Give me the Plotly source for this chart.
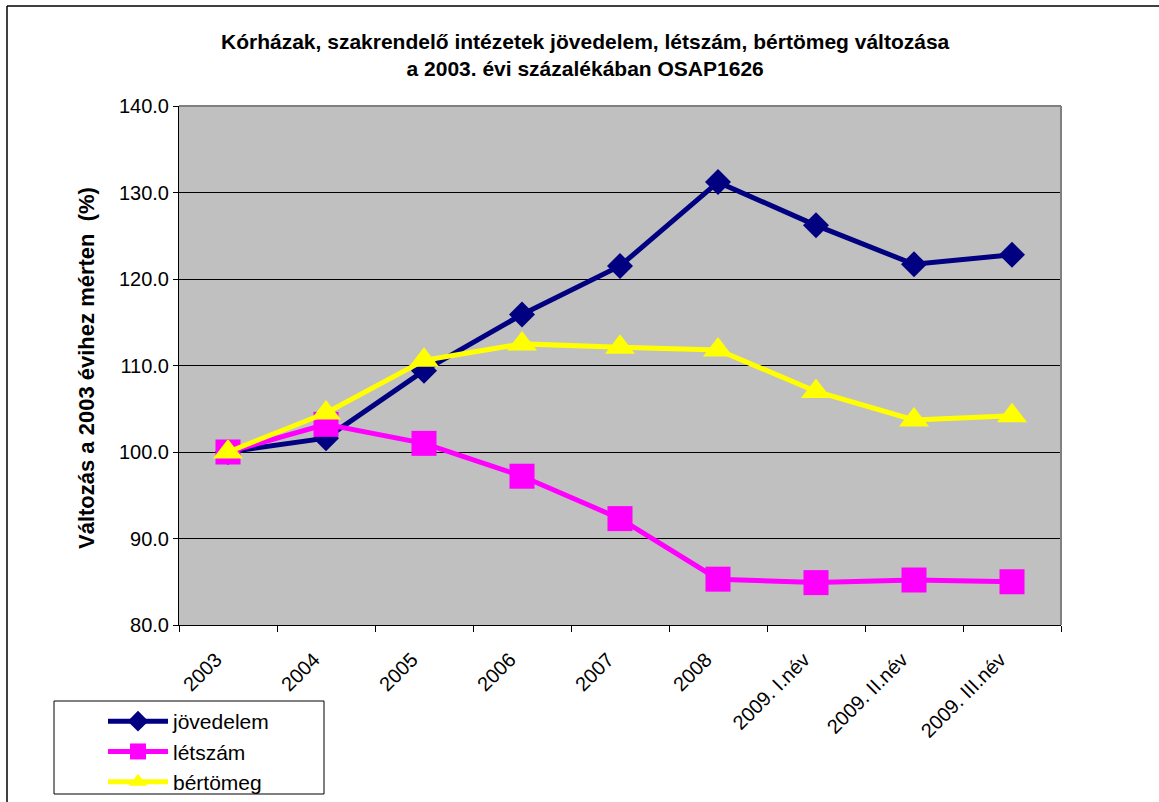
import plotly.graph_objects as go

categories = ["2003", "2004", "2005", "2006", "2007", "2008",
              "2009. I.név", "2009. II.név", "2009. III.név"]
jovedelem = [100.0, 101.6, 109.4, 115.9, 121.5, 131.2, 126.2, 121.7, 122.8]
letszam = [100.0, 103.2, 101.0, 97.2, 92.3, 85.3, 84.9, 85.2, 85.0]
bertomeg = [100.0, 104.5, 110.6, 112.5, 112.1, 111.8, 107.0, 103.7, 104.2]
y_ticks = [80, 90, 100, 110, 120, 130, 140]
y_ticktext = ["80.0", "90.0", "100.0", "110.0", "120.0", "130.0", "140.0"]

FONT = "Arial, Liberation Sans, sans-serif"
W, H = 1159, 802
L, R, T, B = 179, 1061, 106, 625
PW, PH = R - L, B - T


def px(xp):
    return (xp - L) / PW


def py(yp):
    return (B - yp) / PH


fig = go.Figure()
series = [
    ("jövedelem", jovedelem, "#000080", "diamond", 20),
    ("létszám", letszam, "#FF00FF", "square", 25),
    ("bértömeg", bertomeg, "#FFFF00", "triangle-up", 26),
]
for name, vals, col, sym, size in series:
    fig.add_trace(go.Scatter(
        x=categories, y=vals, name=name, mode="lines+markers",
        line=dict(color=col, width=5),
        marker=dict(symbol=sym, size=size, color=col, line=dict(width=0)),
        legendgroup=name,
    ))

fig.update_layout(
    width=W, height=H, autosize=False,
    margin=dict(l=L, r=W - R, t=T, b=H - B, pad=0, autoexpand=False),
    paper_bgcolor="white", plot_bgcolor="#C0C0C0",
    font=dict(family=FONT, color="black", size=20),
    showlegend=True,
    legend=dict(
        x=px(103), y=py(701), xanchor="left", yanchor="top",
        bgcolor="rgba(0,0,0,0)", borderwidth=0,
        font=dict(family=FONT, size=21, color="black"),
        itemwidth=60, tracegroupgap=0,
    ),
    xaxis=dict(
        type="category", tickson="boundaries", ticks="outside",
        ticklen=6, tickcolor="black", tickwidth=1,
        showline=True, linecolor="black", linewidth=1,
        showgrid=False, tickangle=-45, automargin=False,
        ticklabelstandoff=14, ticklabelshift=-12,
        tickfont=dict(family=FONT, size=20, color="black"),
        range=[-0.5, 8.5], fixedrange=True,
    ),
    yaxis=dict(
        range=[80, 140], tickvals=y_ticks, ticktext=y_ticktext,
        ticks="outside", ticklen=5, tickcolor="black", tickwidth=1,
        showline=True, linecolor="black", linewidth=1, automargin=False,
        showgrid=True, gridcolor="black", gridwidth=1, zeroline=False,
        tickfont=dict(family=FONT, size=20, color="black"),
    ),
    shapes=[
        dict(type="line", xref="paper", yref="paper", x0=0, x1=1, y0=1, y1=1,
             line=dict(color="#808080", width=2), layer="above"),
        dict(type="line", xref="paper", yref="paper", x0=1, x1=1, y0=0, y1=1,
             line=dict(color="#808080", width=2), layer="above"),
        dict(type="line", xref="paper", yref="paper",
             x0=px(7), x1=px(7), y0=py(H + 20), y1=py(6),
             line=dict(color="black", width=1.5), layer="below"),
        dict(type="line", xref="paper", yref="paper",
             x0=px(7), x1=px(W + 20), y0=py(6), y1=py(6),
             line=dict(color="black", width=1.5), layer="below"),
        dict(type="rect", xref="paper", yref="paper",
             x0=px(54), x1=px(324), y0=py(794), y1=py(701),
             line=dict(color="black", width=1), fillcolor="white", layer="below"),
    ],
    annotations=[
        dict(text="<b>Kórházak, szakrendelő intézetek jövedelem, létszám, bértömeg változása<br>a 2003. évi százalékában OSAP1626</b>",
             xref="paper", yref="paper", x=px(585), y=py(55),
             xanchor="center", yanchor="middle", showarrow=False,
             font=dict(family=FONT, size=21, color="black")),
        dict(text="<b>Változás a 2003 évihez mérten  (%)</b>",
             xref="paper", yref="paper", x=px(87), y=py(368),
             xanchor="center", yanchor="middle", showarrow=False, textangle=-90,
             font=dict(family=FONT, size=22, color="black")),
    ],
)

css = ("var s=document.createElement('style');"
       "s.textContent='html,body{margin:0;padding:0;width:1159px;height:802px;overflow:hidden;}';"
       "document.head.appendChild(s);")
fig.write_html("out.html", config={"displayModeBar": False}, post_script=css)
